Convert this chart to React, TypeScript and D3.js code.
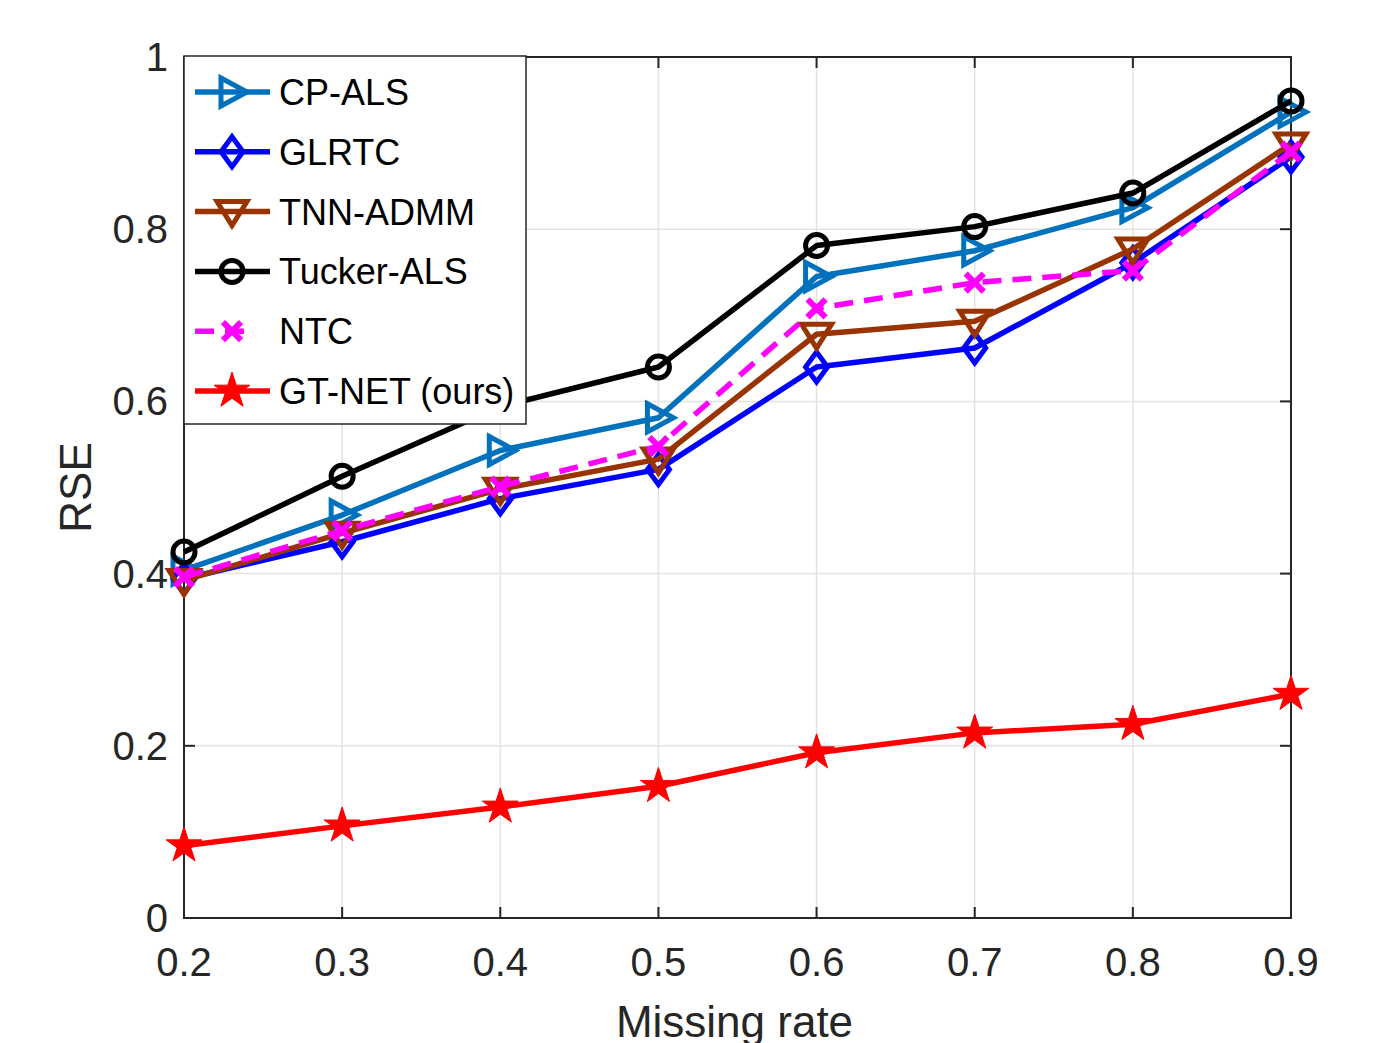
import React, { useEffect, useRef } from 'react';
import * as d3 from 'd3';

const missingRates = [0.2, 0.3, 0.4, 0.5, 0.6, 0.7, 0.8, 0.9];
const yTicks = [0, 0.2, 0.4, 0.6, 0.8, 1];

const cpAls = [0.404, 0.468, 0.543, 0.581, 0.745, 0.775, 0.825, 0.936];
const glrtc = [0.394, 0.437, 0.487, 0.521, 0.640, 0.662, 0.761, 0.884];
const tnnAdmm = [0.392, 0.447, 0.498, 0.533, 0.678, 0.693, 0.777, 0.899];
const tuckerAls = [0.425, 0.513, 0.594, 0.640, 0.781, 0.803, 0.842, 0.949];
const ntc = [0.396, 0.450, 0.501, 0.548, 0.708, 0.738, 0.752, 0.890];
const gtNet = [0.084, 0.107, 0.129, 0.153, 0.192, 0.215, 0.225, 0.260];

const seriesNames = ['CP-ALS', 'GLRTC', 'TNN-ADMM', 'Tucker-ALS', 'NTC', 'GT-NET (ours)'];

type Marker = 'right' | 'diamond' | 'down' | 'circle' | 'x' | 'star';

interface Series {
  name: string;
  values: number[];
  color: string;
  marker: Marker;
  dashed?: boolean;
}

const series: Series[] = [
  { name: seriesNames[0], values: cpAls, color: '#0072BD', marker: 'right' },
  { name: seriesNames[1], values: glrtc, color: '#0000FF', marker: 'diamond' },
  { name: seriesNames[2], values: tnnAdmm, color: '#993300', marker: 'down' },
  { name: seriesNames[3], values: tuckerAls, color: '#000000', marker: 'circle' },
  { name: seriesNames[4], values: ntc, color: '#FF00FF', marker: 'x', dashed: true },
  { name: seriesNames[5], values: gtNet, color: '#FF0000', marker: 'star' },
];

const FONT = '"Liberation Sans", Arial, Helvetica, sans-serif';
const AXIS_COLOR = '#262626';

// draws one marker centred at (0,0) inside the given group
function drawMarker(g: d3.Selection<SVGGElement, unknown, null, undefined>, type: Marker, color: string) {
  if (type === 'circle') {
    g.append('circle').attr('r', 11).attr('fill', 'none').attr('stroke', color).attr('stroke-width', 5);
  } else if (type === 'star') {
    g.append('path')
      .attr('d', d3.symbol().type(d3.symbolStar).size(400)())
      .attr('fill', color)
      .attr('stroke', color)
      .attr('stroke-width', 1);
  } else if (type === 'x') {
    g.append('path')
      .attr('d', 'M-9,-9L9,9M-9,9L9,-9')
      .attr('stroke', color)
      .attr('stroke-width', 6)
      .attr('fill', 'none');
  } else {
    const shapes: Record<string, string> = {
      right: 'M-11,-14L15,0L-11,14Z',
      diamond: 'M0,-15L11,0L0,15L-11,0Z',
      down: 'M-15,-10L15,-10L0,14Z',
    };
    g.append('path')
      .attr('d', shapes[type])
      .attr('fill', 'none')
      .attr('stroke', color)
      .attr('stroke-width', 5)
      .attr('stroke-linejoin', 'miter');
  }
}

export default function App() {
  const svgRef = useRef<SVGSVGElement>(null);

  useEffect(() => {
    if (!svgRef.current) return;
    const svg = d3.select(svgRef.current);
    svg.selectAll('*').remove();

    const width = 1382;
    const height = 1043;
    const margin = { left: 184, right: 91, top: 57, bottom: 125 };

    const x = d3.scaleLinear().domain([0.2, 0.9]).range([margin.left, width - margin.right]);
    const y = d3.scaleLinear().domain([0, 1]).range([height - margin.bottom, margin.top]);

    svg.append('rect').attr('width', width).attr('height', height).attr('fill', '#ffffff');

    // grid
    const grid = svg.append('g');
    grid.selectAll('line.gx')
      .data(missingRates)
      .enter()
      .append('line')
      .attr('x1', d => x(d)).attr('x2', d => x(d))
      .attr('y1', y(0)).attr('y2', y(1))
      .attr('stroke', '#e3e3e3').attr('stroke-width', 1.5);
    grid.selectAll('line.gy')
      .data(yTicks)
      .enter()
      .append('line')
      .attr('x1', x(0.2)).attr('x2', x(0.9))
      .attr('y1', d => y(d)).attr('y2', d => y(d))
      .attr('stroke', '#e3e3e3').attr('stroke-width', 1.5);

    // axes box and inward ticks
    const axes = svg.append('g');
    axes.append('rect')
      .attr('x', x(0.2)).attr('y', y(1))
      .attr('width', x(0.9) - x(0.2)).attr('height', y(0) - y(1))
      .attr('fill', 'none').attr('stroke', AXIS_COLOR).attr('stroke-width', 2);

    const tickLen = 11;
    missingRates.forEach(v => {
      axes.append('line').attr('x1', x(v)).attr('x2', x(v)).attr('y1', y(0)).attr('y2', y(0) - tickLen)
        .attr('stroke', AXIS_COLOR).attr('stroke-width', 2);
      axes.append('line').attr('x1', x(v)).attr('x2', x(v)).attr('y1', y(1)).attr('y2', y(1) + tickLen)
        .attr('stroke', AXIS_COLOR).attr('stroke-width', 2);
    });
    yTicks.forEach(v => {
      axes.append('line').attr('x1', x(0.2)).attr('x2', x(0.2) + tickLen).attr('y1', y(v)).attr('y2', y(v))
        .attr('stroke', AXIS_COLOR).attr('stroke-width', 2);
      axes.append('line').attr('x1', x(0.9)).attr('x2', x(0.9) - tickLen).attr('y1', y(v)).attr('y2', y(v))
        .attr('stroke', AXIS_COLOR).attr('stroke-width', 2);
    });

    // tick labels
    axes.selectAll('text.xt')
      .data(missingRates)
      .enter()
      .append('text')
      .attr('x', d => x(d))
      .attr('y', y(0) + 58)
      .attr('text-anchor', 'middle')
      .attr('font-family', FONT)
      .attr('font-size', 40)
      .attr('fill', AXIS_COLOR)
      .text(d => d3.format('.1f')(d));

    axes.selectAll('text.yt')
      .data(yTicks)
      .enter()
      .append('text')
      .attr('x', x(0.2) - 16)
      .attr('y', d => y(d) + 14)
      .attr('text-anchor', 'end')
      .attr('font-family', FONT)
      .attr('font-size', 40)
      .attr('fill', AXIS_COLOR)
      .text(d => (d === 0 || d === 1 ? String(d) : d3.format('.1f')(d)));

    // axis titles
    svg.append('text')
      .attr('x', (x(0.2) + x(0.9)) / 2 - 3)
      .attr('y', 1037)
      .attr('text-anchor', 'middle')
      .attr('font-family', FONT)
      .attr('font-size', 44)
      .attr('fill', AXIS_COLOR)
      .text('Missing rate');

    svg.append('text')
      .attr('transform', `translate(91,${(y(0) + y(1)) / 2}) rotate(-90)`)
      .attr('text-anchor', 'middle')
      .attr('font-family', FONT)
      .attr('font-size', 44)
      .attr('fill', AXIS_COLOR)
      .text('RSE');

    // series
    const line = d3.line<number>()
      .x((_, i) => x(missingRates[i]))
      .y(d => y(d));

    series.forEach(s => {
      const g = svg.append('g');
      g.append('path')
        .attr('d', line(s.values))
        .attr('fill', 'none')
        .attr('stroke', s.color)
        .attr('stroke-width', 5.5)
        .attr('stroke-linejoin', 'round')
        .attr('stroke-dasharray', s.dashed ? '19,11' : null);
      s.values.forEach((v, i) => {
        const m = g.append('g').attr('transform', `translate(${x(missingRates[i])},${y(v)})`);
        drawMarker(m, s.marker, s.color);
      });
    });

    // legend
    const legend = svg.append('g');
    const lx = x(0.2);
    const ly = y(1) - 1;
    const rowH = 59.8;
    legend.append('rect')
      .attr('x', lx).attr('y', ly)
      .attr('width', 342).attr('height', 368)
      .attr('fill', '#ffffff')
      .attr('stroke', AXIS_COLOR)
      .attr('stroke-width', 1.5);

    series.forEach((s, i) => {
      const cy = ly + 36 + i * rowH;
      const row = legend.append('g');
      row.append('line')
        .attr('x1', lx + 11).attr('x2', s.dashed ? lx + 70 : lx + 86)
        .attr('y1', cy).attr('y2', cy)
        .attr('stroke', s.color)
        .attr('stroke-width', 5.5)
        .attr('stroke-dasharray', s.dashed ? '19,11' : null);
      const m = row.append('g').attr('transform', `translate(${lx + 48},${cy})`);
      drawMarker(m, s.marker, s.color);
      row.append('text')
        .attr('x', lx + 95)
        .attr('y', cy + 13)
        .attr('font-family', FONT)
        .attr('font-size', 36)
        .attr('fill', '#000000')
        .text(s.name);
    });
  }, []);

  return (
    <div style={{ position: 'absolute', left: 0, top: 0 }}>
      <svg ref={svgRef} width={1382} height={1043} style={{ display: 'block' }}></svg>
    </div>
  );
}
